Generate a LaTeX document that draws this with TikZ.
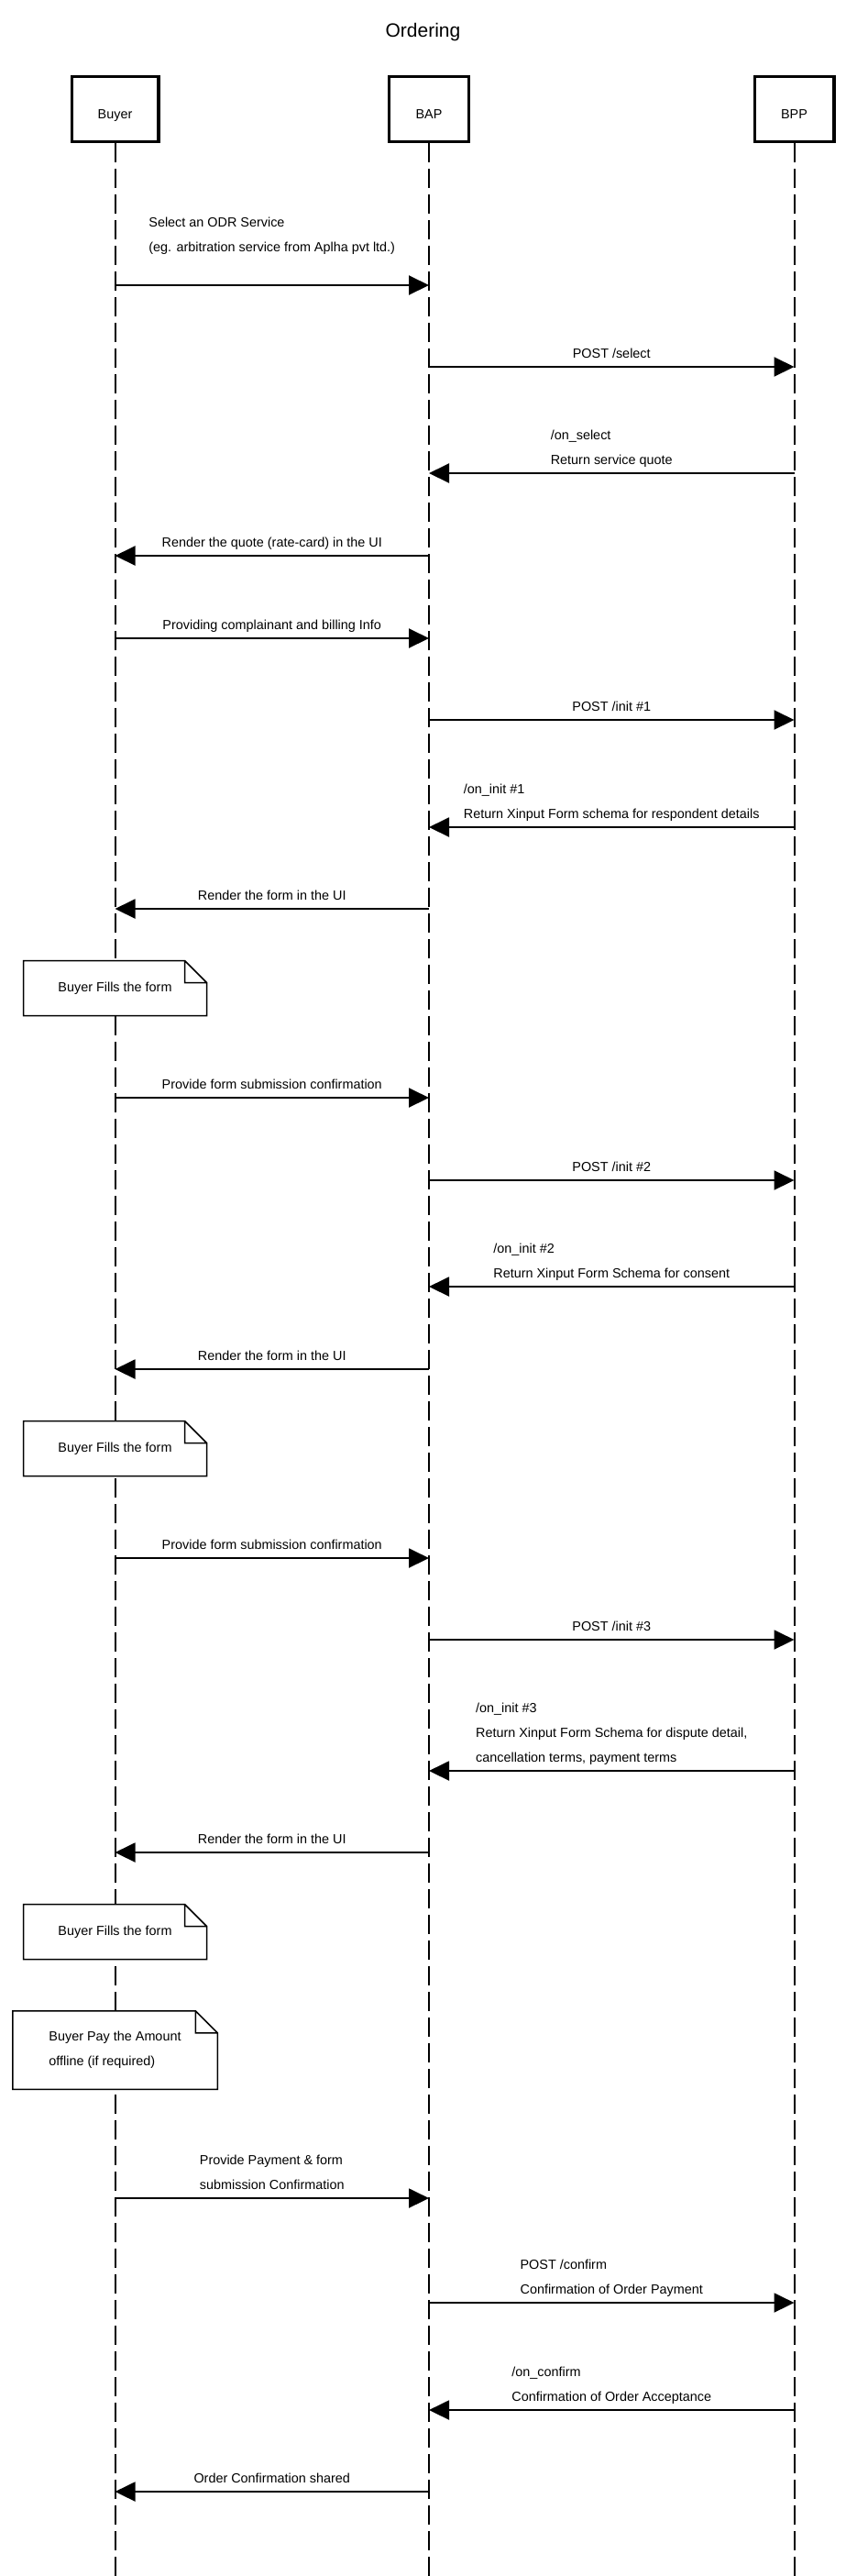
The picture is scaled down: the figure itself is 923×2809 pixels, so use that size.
\documentclass[tikz,border=0pt]{standalone}
\usepackage{fontspec}
\setmainfont{Liberation Sans}
\usetikzlibrary{arrows.meta}

\begin{document}
\begin{tikzpicture}[x=1pt,y=-1pt,line width=2pt,font=\fontsize{14.4}{26.7}\selectfont,
  actor/.style={draw,line width=3.3pt,fill=white,minimum width=86.7pt,minimum height=70.7pt,text height=23pt,text depth=3pt,inner sep=0pt},
  lifeline/.style={dash pattern=on 21pt off 7pt},
  msg/.style={-{Triangle[length=22pt,width=21pt]}},
  lbl/.style={midway,anchor=base,yshift=10pt,align=left,inner sep=0pt},
  notebox/.style={fill=white,inner sep=0pt,outer sep=0pt,align=left},
  fold/.style={line width=1.5pt}]
  \useasboundingbox[fill=white] (0,0) rectangle (923,2809);
  \node[font=\fontsize{21}{25}\selectfont,anchor=base] (title) at (461.5,40.5) {Ordering};

  \node[actor,minimum width=94.7pt] (buyer) at (125.5,119) {Buyer};
  \node[actor] (bap) at (468,119) {BAP};
  \node[actor] (bpp) at (866.5,119) {BPP};
  \coordinate (buyerEnd) at (125.5,2809);
  \coordinate (bapEnd) at (468,2809);
  \coordinate (bppEnd) at (866.5,2809);
  \draw[lifeline] (buyer) -- (buyerEnd);
  \draw[lifeline] (bap) -- (bapEnd);
  \draw[lifeline] (bpp) -- (bppEnd);

  \coordinate (buyer1) at (125.5,311);
  \coordinate (bap1) at (468,311);
  \draw[msg] (buyer1) -- node[lbl,yshift=27pt] {Select an ODR Service\\(eg. arbitration service from Aplha pvt ltd.)} (bap1);
  \coordinate (bap2) at (468,400);
  \coordinate (bpp2) at (866.5,400);
  \draw[msg] (bap2) -- node[lbl] {POST /select} (bpp2);
  \coordinate (bpp3) at (866.5,516);
  \coordinate (bap3) at (468,516);
  \draw[msg] (bpp3) -- node[lbl] {/on\_select\\Return service quote} (bap3);
  \coordinate (bap4) at (468,606);
  \coordinate (buyer4) at (125.5,606);
  \draw[msg] (bap4) -- node[lbl] {Render the quote (rate-card) in the UI} (buyer4);
  \coordinate (buyer5) at (125.5,696);
  \coordinate (bap5) at (468,696);
  \draw[msg] (buyer5) -- node[lbl] {Providing complainant and billing Info} (bap5);
  \coordinate (bap6) at (468,785);
  \coordinate (bpp6) at (866.5,785);
  \draw[msg] (bap6) -- node[lbl] {POST /init \#1} (bpp6);
  \coordinate (bpp7) at (866.5,902);
  \coordinate (bap7) at (468,902);
  \draw[msg] (bpp7) -- node[lbl] {/on\_init \#1\\Return Xinput Form schema for respondent details} (bap7);
  \coordinate (bap8) at (468,991);
  \coordinate (buyer8) at (125.5,991);
  \draw[msg] (bap8) -- node[lbl] {Render the form in the UI} (buyer8);

  \node[notebox,minimum width=200pt,minimum height=60pt] (note1) at (125.5,1077.5) {Buyer Fills the form};
  \draw[fold] (note1.north west) -- ([xshift=-24pt]note1.north east) -- ([yshift=-24pt]note1.north east) -- (note1.south east) -- (note1.south west) -- cycle
    ([xshift=-24pt]note1.north east) -- ([xshift=-24pt,yshift=-24pt]note1.north east) -- ([yshift=-24pt]note1.north east);

  \coordinate (buyer9) at (125.5,1197);
  \coordinate (bap9) at (468,1197);
  \draw[msg] (buyer9) -- node[lbl] {Provide form submission confirmation} (bap9);
  \coordinate (bap10) at (468,1287);
  \coordinate (bpp10) at (866.5,1287);
  \draw[msg] (bap10) -- node[lbl] {POST /init \#2} (bpp10);
  \coordinate (bpp11) at (866.5,1403);
  \coordinate (bap11) at (468,1403);
  \draw[msg] (bpp11) -- node[lbl] {/on\_init \#2\\Return Xinput Form Schema for consent} (bap11);
  \coordinate (bap12) at (468,1493);
  \coordinate (buyer12) at (125.5,1493);
  \draw[msg] (bap12) -- node[lbl] {Render the form in the UI} (buyer12);

  \node[notebox,minimum width=200pt,minimum height=60pt] (note2) at (125.5,1579.5) {Buyer Fills the form};
  \draw[fold] (note2.north west) -- ([xshift=-24pt]note2.north east) -- ([yshift=-24pt]note2.north east) -- (note2.south east) -- (note2.south west) -- cycle
    ([xshift=-24pt]note2.north east) -- ([xshift=-24pt,yshift=-24pt]note2.north east) -- ([yshift=-24pt]note2.north east);

  \coordinate (buyer13) at (125.5,1699);
  \coordinate (bap13) at (468,1699);
  \draw[msg] (buyer13) -- node[lbl] {Provide form submission confirmation} (bap13);
  \coordinate (bap14) at (468,1788);
  \coordinate (bpp14) at (866.5,1788);
  \draw[msg] (bap14) -- node[lbl] {POST /init \#3} (bpp14);
  \coordinate (bpp15) at (866.5,1931);
  \coordinate (bap15) at (468,1931);
  \draw[msg] (bpp15) -- node[lbl] {/on\_init \#3\\Return Xinput Form Schema for dispute detail,\\cancellation terms, payment terms} (bap15);
  \coordinate (bap16) at (468,2020);
  \coordinate (buyer16) at (125.5,2020);
  \draw[msg] (bap16) -- node[lbl] {Render the form in the UI} (buyer16);

  \node[notebox,minimum width=200pt,minimum height=60pt] (note3) at (125.5,2106.5) {Buyer Fills the form};
  \draw[fold] (note3.north west) -- ([xshift=-24pt]note3.north east) -- ([yshift=-24pt]note3.north east) -- (note3.south east) -- (note3.south west) -- cycle
    ([xshift=-24pt]note3.north east) -- ([xshift=-24pt,yshift=-24pt]note3.north east) -- ([yshift=-24pt]note3.north east);
  \node[notebox,minimum width=223.5pt,minimum height=85.5pt] (note4) at (125.5,2235.5) {Buyer Pay the Amount\\offline (if required)};
  \draw[fold] (note4.north west) -- ([xshift=-24pt]note4.north east) -- ([yshift=-24pt]note4.north east) -- (note4.south east) -- (note4.south west) -- cycle
    ([xshift=-24pt]note4.north east) -- ([xshift=-24pt,yshift=-24pt]note4.north east) -- ([yshift=-24pt]note4.north east);

  \coordinate (buyer17) at (125.5,2397);
  \coordinate (bap17) at (468,2397);
  \draw[msg] (buyer17) -- node[lbl] {Provide Payment \& form\\submission Confirmation} (bap17);
  \coordinate (bap18) at (468,2511);
  \coordinate (bpp18) at (866.5,2511);
  \draw[msg] (bap18) -- node[lbl] {POST /confirm\\Confirmation of Order Payment} (bpp18);
  \coordinate (bpp19) at (866.5,2628);
  \coordinate (bap19) at (468,2628);
  \draw[msg] (bpp19) -- node[lbl] {/on\_confirm\\Confirmation of Order Acceptance} (bap19);
  \coordinate (bap20) at (468,2717);
  \coordinate (buyer20) at (125.5,2717);
  \draw[msg] (bap20) -- node[lbl] {Order Confirmation shared} (buyer20);
\end{tikzpicture}
\end{document}
